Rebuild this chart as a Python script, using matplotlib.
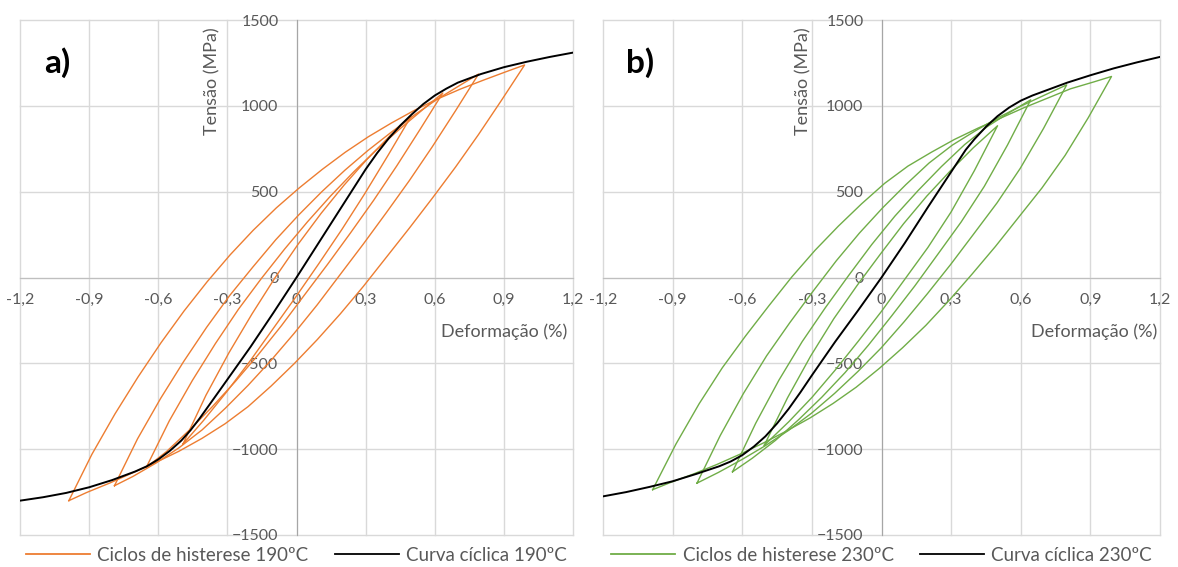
import numpy as np
import matplotlib.pyplot as plt
from matplotlib.lines import Line2D

plt.rcParams['font.family'] = ['Lato', 'DejaVu Sans']

# strain (%) / stress (MPa) from the test records
# 190 ºC - four stabilised hysteresis loops (rising branch, then falling branch)
a1_x = [-0.988, -0.888, -0.788, -0.688, -0.588, -0.488, -0.388, -0.288, -0.188, -0.088, 0.012,
        0.112, 0.212, 0.312, 0.412, 0.512, 0.612, 0.712, 0.812, 0.912, 0.99,
        0.89, 0.79, 0.69, 0.59, 0.49, 0.39, 0.29, 0.19, 0.09, -0.01,
        -0.11, -0.21, -0.31, -0.41, -0.51, -0.61, -0.71, -0.81, -0.91, -0.988]
a1_y = [-1300, -1030, -795, -580, -380, -195, -25, 132, 275, 405, 522,
        630, 730, 820, 900, 974, 1040, 1098, 1150, 1200, 1238,
        1033, 833, 643, 463, 288, 118, -52, -212, -362, -502,
        -632, -752, -852, -937, -1012, -1077, -1137, -1197, -1252, -1300]

a2_x = [-0.79, -0.69, -0.59, -0.49, -0.39, -0.29, -0.19, -0.09, 0.01, 0.11, 0.21,
        0.31, 0.41, 0.51, 0.61, 0.71, 0.79,
        0.69, 0.59, 0.49, 0.39, 0.29, 0.19, 0.09, -0.01, -0.11, -0.21,
        -0.31, -0.41, -0.51, -0.61, -0.71, -0.79]
a2_y = [-1213, -940, -705, -490, -290, -105, 60, 220, 365, 500, 625,
        740, 845, 945, 1038, 1120, 1185,
        971, 763, 565, 378, 195, 18, -159, -325, -482, -628,
        -763, -888, -992, -1081, -1159, -1213]

a3_x = [-0.652, -0.552, -0.452, -0.352, -0.252, -0.152, -0.052, 0.048, 0.148, 0.248, 0.348,
        0.448, 0.548, 0.635,
        0.535, 0.435, 0.335, 0.235, 0.135, 0.035, -0.065, -0.165, -0.265, -0.365,
        -0.465, -0.565, -0.652]
a3_y = [-1106, -835, -600, -385, -185, -5, 165, 325, 475, 615, 745,
        865, 978, 1075,
        860, 650, 450, 261, 77, -101, -280, -448, -605, -752,
        -889, -1015, -1106]

a4_x = [-0.493, -0.393, -0.293, -0.193, -0.093, 0.007, 0.107, 0.207, 0.307, 0.407, 0.497,
        0.397, 0.297, 0.197, 0.097, -0.003, -0.103, -0.203, -0.303, -0.403, -0.493]
a4_y = [-971, -686, -438, -212, -1, 194, 374, 539, 690, 827, 938,
        711, 490, 280, 81, -113, -301, -489, -666, -832, -971]

# 190 ºC - cyclic stress-strain curve
cyc_a_x = [-1.2, -1.1, -1.0, -0.9, -0.8, -0.7, -0.65, -0.6, -0.55, -0.5, -0.46, -0.42, -0.38,
           -0.33, -0.2, -0.1, 0.0, 0.1, 0.2, 0.3, 0.35, 0.4, 0.45, 0.5, 0.55, 0.6, 0.65,
           0.7, 0.8, 0.9, 1.0, 1.1, 1.2]
cyc_a_y = [-1300, -1280, -1255, -1222, -1180, -1130, -1100, -1060, -1010, -950, -890, -820, -745,
           -651, -405, -205, 0, 210, 420, 630, 725, 810, 885, 950, 1010, 1060, 1100,
           1135, 1185, 1225, 1257, 1285, 1310]

# 230 ºC - hysteresis loops
b1_x = [-0.986, -0.886, -0.786, -0.686, -0.586, -0.486, -0.386, -0.286, -0.186, -0.086, 0.014,
        0.114, 0.214, 0.314, 0.414, 0.514, 0.614, 0.714, 0.814, 0.914, 0.991,
        0.891, 0.791, 0.691, 0.591, 0.491, 0.391, 0.291, 0.191, 0.091, -0.009,
        -0.109, -0.209, -0.309, -0.409, -0.509, -0.609, -0.709, -0.809, -0.909, -0.986]
b1_y = [-1236, -971, -736, -526, -341, -166, 4, 159, 299, 429, 549,
        649, 729, 804, 869, 929, 989, 1044, 1099, 1139, 1171,
        931, 711, 521, 351, 181, 21, -134, -279, -409, -529,
        -639, -734, -819, -894, -964, -1029, -1089, -1144, -1194, -1236]

b2_x = [-0.795, -0.695, -0.595, -0.495, -0.395, -0.295, -0.195, -0.095, 0.005, 0.105, 0.205,
        0.305, 0.405, 0.505, 0.605, 0.705, 0.798,
        0.698, 0.598, 0.498, 0.398, 0.298, 0.198, 0.098, -0.002, -0.102, -0.202,
        -0.302, -0.402, -0.502, -0.602, -0.702, -0.795]
b2_y = [-1198, -921, -676, -456, -263, -80, 97, 259, 406, 541, 667,
        771, 855, 933, 1001, 1064, 1122,
        868, 636, 435, 255, 76, -94, -257, -411, -548, -675,
        -791, -892, -981, -1061, -1135, -1198]

b3_x = [-0.642, -0.542, -0.442, -0.342, -0.242, -0.142, -0.042, 0.058, 0.158, 0.258, 0.358,
        0.458, 0.558, 0.643,
        0.543, 0.443, 0.343, 0.243, 0.143, 0.043, -0.057, -0.157, -0.257, -0.357,
        -0.457, -0.557, -0.642]
b3_y = [-1132, -849, -598, -374, -176, 11, 192, 358, 507, 646, 774,
        881, 967, 1035,
        772, 531, 323, 136, -50, -225, -395, -554, -697, -828,
        -949, -1053, -1132]

b4_x = [-0.505, -0.405, -0.305, -0.205, -0.105, -0.005, 0.095, 0.195, 0.295, 0.395, 0.5,
        0.4, 0.3, 0.2, 0.1, 0.0, -0.1, -0.2, -0.3, -0.4, -0.505]
b4_y = [-977, -701, -457, -239, -46, 136, 313, 474, 619, 755, 884,
        622, 382, 175, -11, -197, -371, -540, -699, -841, -977]

# 230 ºC - cyclic curve
cyc_b_x = [-1.2, -1.1, -1.0, -0.9, -0.8, -0.7, -0.65, -0.6, -0.55, -0.5, -0.45, -0.4, -0.35,
           -0.3, -0.2, -0.1, 0.0, 0.1, 0.2, 0.3, 0.363, 0.4, 0.45, 0.5, 0.55, 0.6, 0.65,
           0.7, 0.8, 0.9, 1.0, 1.1, 1.2]
cyc_b_y = [-1275, -1250, -1220, -1187, -1145, -1100, -1072, -1035, -985, -925, -850, -765, -670,
           -570, -375, -190, 0, 200, 410, 615, 744, 805, 878, 940, 990, 1030, 1060,
           1085, 1135, 1178, 1218, 1253, 1285]

x_ticks = [-1.2, -0.9, -0.6, -0.3, 0.0, 0.3, 0.6, 0.9, 1.2]
x_tick_labels = ['-1,2', '-0,9', '-0,6', '-0,3', '0', '0,3', '0,6', '0,9', '1,2']
y_ticks = [-1500, -1000, -500, 0, 500, 1000, 1500]

ORANGE = '#ED7D31'
GREEN = '#70AD47'
GREY_TXT = '#595959'


def style_axes(ax):
    ax.set_xlim(-1.2, 1.2)
    ax.set_ylim(-1500, 1500)
    ax.set_xticks(x_ticks)
    ax.set_xticklabels(x_tick_labels)
    ax.set_yticks(y_ticks)
    ax.grid(True, color='#d9d9d9', lw=1.0, clip_on=False)
    ax.set_axisbelow(True)
    ax.spines['top'].set_visible(False)
    ax.spines['right'].set_visible(False)
    ax.spines['left'].set_position(('data', 0))
    ax.spines['bottom'].set_position(('data', 0))
    ax.spines['left'].set_color('#a6a6a6')
    ax.spines['bottom'].set_color('#bfbfbf')
    ax.tick_params(length=0, labelsize=11.5, labelcolor=GREY_TXT)
    ax.tick_params(axis='x', pad=11)
    ax.tick_params(axis='y', pad=13)
    ax.patch.set_visible(False)


def draw_panel(ax, loops, cyc_x, cyc_y, colour, temp, letter, ylab_x, xlab_x):
    style_axes(ax)
    for lx, ly in loops:
        ax.plot(lx, ly, color=colour, lw=1.0, zorder=3, solid_joinstyle='round')
    ax.plot(cyc_x, cyc_y, color='black', lw=1.4, zorder=4, solid_joinstyle='round')

    ax.text(ylab_x, 1455, 'Tensão (MPa)', rotation=90, ha='center', va='top',
            fontsize=13, color=GREY_TXT)
    ax.text(xlab_x, -314, 'Deformação (%)', ha='right', va='center',
            fontsize=13, color=GREY_TXT)
    ax.text(-1.04, 1250, letter, ha='center', va='center', fontsize=24,
            fontweight='bold', color='black')

    handles = [Line2D([], [], color=colour, lw=1.3),
               Line2D([], [], color='black', lw=1.3)]
    labels = [f'Ciclos de histerese {temp}ºC', f'Curva cíclica {temp}ºC']
    ax.legend(handles, labels, loc='upper center', bbox_to_anchor=(0.5, -0.008),
              ncol=2, frameon=False, fontsize=13.5, handlelength=3.4,
              handletextpad=0.4, columnspacing=1.4, labelcolor=GREY_TXT,
              borderaxespad=0)


fig = plt.figure(figsize=(11.78, 5.67), dpi=100)
ax_a = fig.add_axes([20 / 1178, 32 / 567, 553 / 1178, 515 / 567])
ax_b = fig.add_axes([603 / 1178, 32 / 567, 557 / 1178, 515 / 567])

draw_panel(ax_a, [(a1_x, a1_y), (a2_x, a2_y), (a3_x, a3_y), (a4_x, a4_y)],
           cyc_a_x, cyc_a_y, ORANGE, 190, 'a)', -0.364, 1.176)
draw_panel(ax_b, [(b1_x, b1_y), (b2_x, b2_y), (b3_x, b3_y), (b4_x, b4_y)],
           cyc_b_x, cyc_b_y, GREEN, 230, 'b)', -0.338, 1.19)

fig.savefig('out.png', dpi=100, facecolor='white')
